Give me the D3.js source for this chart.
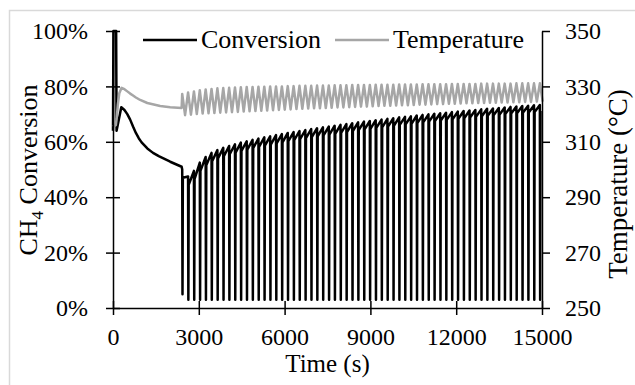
<!DOCTYPE html>
<html>
<head>
<meta charset="utf-8">
<script src="https://cdn.jsdelivr.net/npm/d3@7"></script>
<style>
  body { margin: 0; background: #fff; }
  svg { display: block; font-family: "Times New Roman", "Liberation Serif", Tinos, "DejaVu Serif", serif; }
</style>
</head>
<body>
<div id="chart"></div>
<script>
// ---- data ----
// start-up phase before the periodic operation (time s, conversion %)
const earlyConvTime = [0, 15, 110, 125, 290, 400, 500, 600, 700, 800, 900, 1000, 1200, 1400, 1600, 1800, 2000, 2200, 2400];
const earlyConv = [64, 100, 100, 64, 72.5, 71.5, 70, 68, 65.5, 63.2, 61.3, 59.8, 57.6, 56, 54.8, 53.8, 52.8, 51.9, 51];
// start-up phase temperature (time s, °C)
const earlyTempTime = [0, 100, 130, 170, 220, 300, 400, 500, 600, 700, 800, 950, 1200, 1650, 2000, 2400];
const earlyTemp = [315.5, 316, 318.5, 323.5, 327.5, 329.5, 329, 328.2, 327.4, 326.7, 326, 325.1, 324, 322.9, 322.5, 322.2];

// periodic phase: one entry per cycle
const cycleTime = [2420, 2625, 2830, 3035, 3240, 3445, 3650, 3855, 4060, 4265,
  4470, 4675, 4880, 5085, 5290, 5495, 5700, 5905, 6110, 6315,
  6520, 6725, 6930, 7135, 7340, 7545, 7750, 7955, 8160, 8365,
  8570, 8775, 8980, 9185, 9390, 9595, 9800, 10005, 10210, 10415,
  10620, 10825, 11030, 11235, 11440, 11645, 11850, 12055, 12260, 12465,
  12670, 12875, 13080, 13285, 13490, 13695, 13900, 14105, 14310, 14515,
  14720, 14925];
const convPeak = [50, 47.5, 49.5, 52.5, 54.5, 56, 57, 57.8, 58.5, 59.1,
  59.7, 60.2, 60.7, 61.2, 61.6, 62, 62.4, 62.8, 63.2, 63.5,
  63.9, 64.2, 64.6, 64.9, 65.2, 65.5, 65.8, 66.1, 66.4, 66.7,
  67, 67.3, 67.5, 67.8, 68, 68.3, 68.5, 68.8, 69, 69.2,
  69.5, 69.7, 69.9, 70.1, 70.3, 70.5, 70.7, 70.9, 71.1, 71.3,
  71.5, 71.7, 71.9, 72, 72.2, 72.4, 72.6, 72.7, 72.9, 73,
  73.2, 73.3];
const convTrough = [5, 3, 3, 3, 3, 3, 3, 3, 3, 3,
  3, 3, 3, 3, 3, 3, 3, 3, 3, 3,
  3, 3, 3, 3, 3, 3, 3, 3, 3, 3,
  3, 3, 3, 3, 3, 3, 3, 3, 3, 3,
  3, 3, 3, 3, 3, 3, 3, 3, 3, 3,
  3, 3, 3, 3, 3, 3, 3, 3, 3, 3,
  3, 3];
const convBack = [47, 44.5, 46.5, 49.5, 51.5, 53, 54, 54.8, 55.5, 56.1,
  56.7, 57.2, 57.7, 58.2, 58.6, 59, 59.4, 59.8, 60.2, 60.6,
  61, 61.3, 61.7, 62, 62.3, 62.6, 62.9, 63.2, 63.5, 63.9,
  64.2, 64.5, 64.7, 65, 65.2, 65.5, 65.8, 66.1, 66.3, 66.5,
  66.8, 67, 67.3, 67.5, 67.7, 67.9, 68.1, 68.3, 68.5, 68.8,
  69, 69.2, 69.4, 69.6, 69.8, 70, 70.2, 70.3, 70.5, 70.6,
  70.8, 71.1];
const tempHigh = [327.3, 327.8, 328.2, 328.6, 328.9, 329.1, 329.3, 329.4, 329.5, 329.6,
  329.7, 329.8, 329.8, 329.9, 329.9, 330, 330, 330, 330.1, 330.1,
  330.2, 330.2, 330.2, 330.3, 330.3, 330.3, 330.4, 330.4, 330.4, 330.5,
  330.5, 330.5, 330.5, 330.6, 330.6, 330.6, 330.6, 330.7, 330.7, 330.7,
  330.7, 330.8, 330.8, 330.8, 330.8, 330.8, 330.9, 330.9, 330.9, 330.9,
  330.9, 331, 331, 331, 331, 331, 331, 331.1, 331.1, 331.1,
  331.1, 331.1];
const tempLow = [319.6, 319.8, 320, 320.2, 320.3, 320.4, 320.5, 320.6, 320.7, 320.8,
  320.9, 321, 321.1, 321.2, 321.3, 321.4, 321.5, 321.6, 321.7, 321.8,
  321.9, 322, 322.1, 322.1, 322.2, 322.3, 322.4, 322.4, 322.5, 322.6,
  322.7, 322.7, 322.8, 322.9, 323, 323, 323.1, 323.2, 323.2, 323.3,
  323.4, 323.4, 323.5, 323.6, 323.6, 323.7, 323.7, 323.8, 323.9, 323.9,
  324, 324, 324.1, 324.1, 324.2, 324.2, 324.3, 324.3, 324.4, 324.4,
  324.5, 324.5];

const xTicks = [0, 3000, 6000, 9000, 12000, 15000];
const yLeftTicks = [0, 0.2, 0.4, 0.6, 0.8, 1.0];
const yRightTicks = [250, 270, 290, 310, 330, 350];
const seriesNames = ['Conversion', 'Temperature'];
const seriesColors = ['#000000', '#a6a6a6'];

// ---- layout ----
const FONT = '"Times New Roman", "Liberation Serif", Tinos, "DejaVu Serif", serif';
const W = 635, H = 385;
const margin = { top: 31, right: 93, bottom: 77, left: 113 };
const width = W - margin.left - margin.right;
const height = H - margin.top - margin.bottom;

const svg = d3.select('#chart').append('svg')
  .attr('width', W)
  .attr('height', H)
  .attr('font-family', FONT);

// outer chart border
svg.append('rect')
  .attr('x', 9.5).attr('y', 10.5)
  .attr('width', 640).attr('height', 400)
  .attr('fill', 'none')
  .attr('stroke', '#d9d9d9')
  .attr('stroke-width', 1.5);

const g = svg.append('g').attr('transform', `translate(${margin.left},${margin.top})`);

const x = d3.scaleLinear().domain([0, 15000]).range([0, width]);
const yL = d3.scaleLinear().domain([0, 1]).range([height, 0]);
const yR = d3.scaleLinear().domain([250, 350]).range([height, 0]);

// build series points
const convPts = earlyConvTime.map((t, i) => [t, earlyConv[i] / 100]);
cycleTime.forEach((s, i) => {
  convPts.push([s, convPeak[i] / 100]);
  convPts.push([s + 10, convTrough[i] / 100]);
  convPts.push([s + 22, convBack[i] / 100]);
});

const tempPts = earlyTempTime.map((t, i) => [t, earlyTemp[i]]);
cycleTime.forEach((s, i) => {
  tempPts.push([s, tempHigh[i]]);
  tempPts.push([s + 100, tempLow[i]]);
});

const convLine = d3.line().x(d => x(d[0])).y(d => yL(d[1]));
const tempLine = d3.line().x(d => x(d[0])).y(d => yR(d[1]));

g.append('path')
  .datum(convPts)
  .attr('fill', 'none')
  .attr('stroke', seriesColors[0])
  .attr('stroke-width', 2.5)
  .attr('stroke-linejoin', 'round')
  .attr('d', convLine);

g.append('path')
  .datum(tempPts)
  .attr('fill', 'none')
  .attr('stroke', seriesColors[1])
  .attr('stroke-width', 2.5)
  .attr('stroke-linejoin', 'round')
  .attr('d', tempLine);

// axes
function styleAxis(sel) {
  sel.attr('font-family', FONT).attr('font-size', 24);
  sel.select('.domain').attr('stroke', '#000').attr('stroke-width', 1.5);
  sel.selectAll('.tick line').attr('stroke', '#000').attr('stroke-width', 1.5);
  sel.selectAll('text').attr('fill', '#000').style('font-family', FONT);
}

const gx = g.append('g')
  .attr('transform', `translate(0,${height})`)
  .call(d3.axisBottom(x).tickValues(xTicks).tickFormat(d3.format('d')).tickSize(7).tickSizeOuter(0).tickPadding(13));
gx.selectAll('.tick line').attr('y1', -7);
styleAxis(gx);

const gl = g.append('g')
  .call(d3.axisLeft(yL).tickValues(yLeftTicks).tickFormat(d3.format('.0%')).tickSize(7).tickSizeOuter(0).tickPadding(18));
gl.selectAll('.tick line').attr('x1', 7);
styleAxis(gl);

const gr = g.append('g')
  .attr('transform', `translate(${width},0)`)
  .call(d3.axisRight(yR).tickValues(yRightTicks).tickFormat(d3.format('d')).tickSize(8).tickSizeOuter(0).tickPadding(15));
styleAxis(gr);

// axis titles
svg.append('text')
  .attr('x', margin.left + width / 2)
  .attr('y', 372)
  .attr('text-anchor', 'middle')
  .attr('font-size', 25)
  .text('Time (s)');

const yl = svg.append('text')
  .attr('transform', `translate(37,170) rotate(-90)`)
  .attr('text-anchor', 'middle')
  .attr('font-size', 26)
  .style('white-space', 'pre');
yl.append('tspan').text('CH');
yl.append('tspan').attr('dy', 6).attr('font-size', 17).text('4');
yl.append('tspan').attr('dy', -6).text(' Conversion');

svg.append('text')
  .attr('transform', `translate(627,184) rotate(-90)`)
  .attr('text-anchor', 'middle')
  .attr('font-size', 27)
  .style('white-space', 'pre')
  .text('Temperature (°C)');

// legend
const legendX = [143, 335];
seriesNames.forEach((name, i) => {
  const lg = svg.append('g').attr('transform', `translate(${legendX[i]},40)`);
  lg.append('line')
    .attr('x1', 0).attr('x2', 54)
    .attr('y1', 0).attr('y2', 0)
    .attr('stroke', seriesColors[i])
    .attr('stroke-width', 2.5);
  lg.append('text')
    .attr('x', 58)
    .attr('y', 8)
    .attr('font-size', 26)
    .text(name);
});
</script>
</body>
</html>
